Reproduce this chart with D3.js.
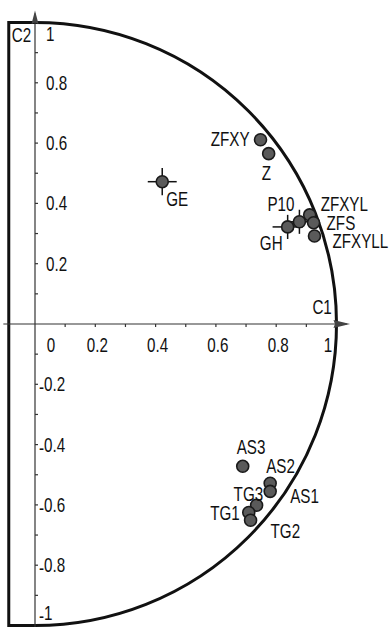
<!DOCTYPE html>
<html><head><meta charset="utf-8">
<script src="https://cdn.jsdelivr.net/npm/d3@7"></script>
<style>
html,body{margin:0;padding:0;background:#fff;}
text{font-family:"Liberation Sans",Arial,sans-serif;font-size:20px;fill:#111;}
</style></head>
<body><svg id="chart" width="391" height="627"></svg>
<script>
// ---- data ----
const names  = ["ZFXY","Z","GE","P10","ZFXYL","ZFS","ZFXYLL","GH","AS3","AS2","AS1","TG3","TG1","TG2"];
const c1     = [0.748, 0.775, 0.422, 0.877, 0.911, 0.924, 0.927, 0.838, 0.689, 0.780, 0.780, 0.735, 0.709, 0.715];
const c2     = [0.611, 0.565, 0.472, 0.339, 0.362, 0.336, 0.292, 0.322,-0.472,-0.528,-0.555,-0.601,-0.625,-0.651];
const errC1  = [0, 0, 0.048, 0.030, 0, 0, 0, 0.050, 0, 0, 0, 0, 0, 0];
const errC2  = [0, 0, 0.045, 0.040, 0, 0, 0, 0.040, 0, 0, 0, 0, 0, 0];
const xTicks = d3.range(0, 1.0001, 0.1);
const yTicks = d3.range(-1, 1.0001, 0.1);
const xTickLabels = ["0","0.2","0.4","0.6","0.8","1"];
const yTickLabels = ["1","0.8","0.6","0.4","0.2","-0.2","-0.4","-0.6","-0.8","-1"];
const axisNames = ["C1","C2"];

// ---- label placement (style) ----
const labelPos = {
  ZFXY:[-11,6,"end"], Z:[-7,26,"start"], GE:[4,24,"start"], P10:[-5,-11,"end"],
  ZFXYL:[11,-4,"start"], ZFS:[13,7,"start"], ZFXYLL:[18,12,"start"], GH:[-5,23,"end"],
  AS3:[-6,-12,"start"], AS2:[-4,-10,"start"], AS1:[20,12,"start"],
  TG3:[-23,-4,"start"], TG1:[-9,8,"end"], TG2:[20,18,"start"]
};
const NARROW = 0.76;

const svg = d3.select("#chart");
const x = d3.scaleLinear().domain([0,1]).range([35,336.5]);
const y = d3.scaleLinear().domain([-1,1]).range([625.5,22.5]);
const R = x(1)-x(0);
const frameLeft = x(-0.087);

function narrow(sel, fx, fy){
  sel.attr("transform",(d,i)=>`translate(${fx(d,i)},${fy(d,i)}) scale(${NARROW},1)`);
  return sel;
}

// frame: D shape
const p = d3.path();
p.moveTo(frameLeft, y(1));
p.lineTo(x(0), y(1));
p.arc(x(0), y(0), R, -Math.PI/2, Math.PI/2, false);
p.lineTo(frameLeft, y(-1));
p.closePath();
svg.append("path").attr("d", p.toString()).attr("fill","none")
   .attr("stroke","#111").attr("stroke-width",3).attr("stroke-linejoin","miter");

// axes lines
const axisColor = "#333";
svg.append("line").attr("x1", x(-0.105)).attr("x2", x(1.035)).attr("y1", y(0)).attr("y2", y(0))
   .attr("stroke",axisColor).attr("stroke-width",1.2);
svg.append("line").attr("x1", x(0)).attr("x2", x(0)).attr("y1", y(1.03)).attr("y2", 627)
   .attr("stroke",axisColor).attr("stroke-width",1.2);
// arrows
svg.append("path").attr("d", d3.line()([[x(1.045),y(0)],[x(0.99),y(0)-4],[x(0.995),y(0)],[x(0.99),y(0)+4]]) + "Z")
   .attr("fill","#444");
svg.append("path").attr("d", d3.line()([[x(0),y(1.04)],[x(0)-3.5,y(0.995)],[x(0),y(1.0)],[x(0)+3.5,y(0.995)]]) + "Z")
   .attr("fill","#444");

// ticks
svg.selectAll(".xt").data(xTicks.slice(1,-1)).enter().append("line")
   .attr("x1",d=>x(d)).attr("x2",d=>x(d)).attr("y1",y(0)).attr("y2",y(0)+3)
   .attr("stroke",axisColor).attr("stroke-width",1.2);
svg.selectAll(".yt").data(yTicks.filter(d=>Math.abs(d)>0.05 && Math.abs(d)<0.95)).enter().append("line")
   .attr("x1",x(0)).attr("x2",x(0)+3).attr("y1",d=>y(d)).attr("y2",d=>y(d))
   .attr("stroke",axisColor).attr("stroke-width",1.2);

// tick labels
narrow(svg.selectAll(".xl").data(xTickLabels).enter().append("text")
   .attr("text-anchor","middle").text(d=>d),
   d=>Math.max(51, Math.min(328, x(+d)+2)), ()=>y(0)+28);
const yl = narrow(svg.selectAll(".yl").data(yTickLabels).enter().append("text"),
   d=> +d<0 ? x(0)+4 : x(0)+11,
   d=>Math.max(34, Math.min(613, y(+d))) + 7);
yl.each(function(d){
  const t = d3.select(this);
  if (+d < 0) {
    t.append("tspan").attr("dy",3).text("-");
    t.append("tspan").attr("dy",-3).text(d.slice(1));
  } else t.text(d);
});

// axis names
narrow(svg.append("text").datum(axisNames[0]).text(d=>d), ()=>x(0.92), ()=>y(0)-10);
narrow(svg.append("text").datum(axisNames[1]).text(d=>d), ()=>frameLeft+3, ()=>y(1)+19);

// data
const data = names.map((n,i)=>({n, c1:c1[i], c2:c2[i], ex:errC1[i], ey:errC2[i]}));
const g = svg.append("g");
data.forEach(d=>{
  if (d.ex>0) g.append("line").attr("x1",x(d.c1-d.ex)).attr("x2",x(d.c1+d.ex))
      .attr("y1",y(d.c2)).attr("y2",y(d.c2)).attr("stroke","#111").attr("stroke-width",1.5);
  if (d.ey>0) g.append("line").attr("x1",x(d.c1)).attr("x2",x(d.c1))
      .attr("y1",y(d.c2-d.ey)).attr("y2",y(d.c2+d.ey)).attr("stroke","#111").attr("stroke-width",1.5);
});
g.selectAll("circle").data(data).enter().append("circle")
  .attr("cx",d=>x(d.c1)).attr("cy",d=>y(d.c2)).attr("r",6)
  .attr("fill","#5a5a5a").attr("stroke","#1a1a1a").attr("stroke-width",1.6);
narrow(svg.selectAll(".pl").data(data).enter().append("text")
  .attr("text-anchor",d=>labelPos[d.n][2]).text(d=>d.n),
  d=>x(d.c1)+labelPos[d.n][0], d=>y(d.c2)+labelPos[d.n][1]);
</script></body></html>
